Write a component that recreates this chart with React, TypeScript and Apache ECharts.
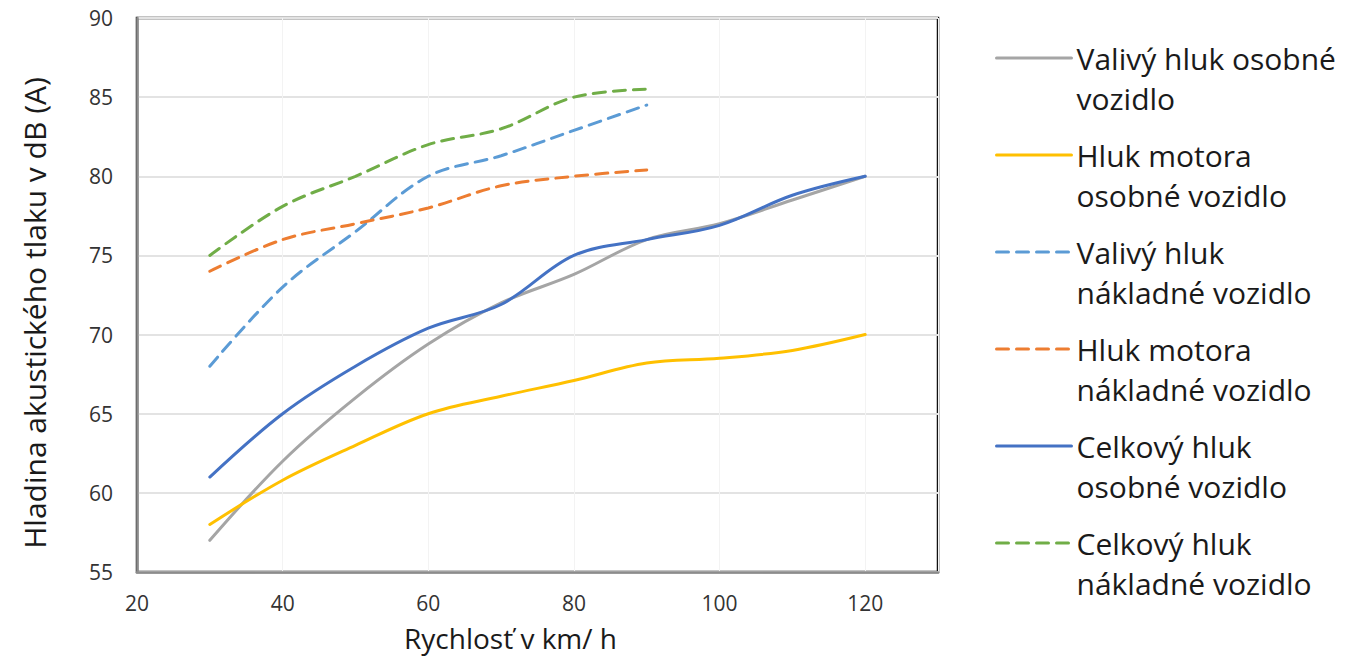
import React, { useEffect, useRef } from "react";
import * as echarts from "echarts";

const speedsCar = [30, 40, 50, 60, 70, 80, 90, 100, 110, 120];
const speedsTruck = [30, 40, 50, 60, 70, 80, 90];

const rollingCar = [57, 62, 66, 69.4, 72, 73.8, 76, 77, 78.5, 80];
const engineCar = [58, 60.8, 63, 65, 66.1, 67.1, 68.2, 68.5, 69, 70];
const rollingTruck = [68, 73, 76.5, 80, 81.3, 82.9, 84.5];
const engineTruck = [74, 76, 77, 78, 79.4, 80, 80.4];
const totalCar = [61, 65, 68, 70.4, 71.9, 75, 76, 76.9, 78.8, 80];
const totalTruck = [75, 78.1, 80, 82, 83, 85, 85.5];

const seriesNames = [
  "Valivý hluk osobné\nvozidlo",
  "Hluk motora\nosobné vozidlo",
  "Valivý hluk\nnákladné vozidlo",
  "Hluk motora\nnákladné vozidlo",
  "Celkový hluk\nosobné vozidlo",
  "Celkový hluk\nnákladné vozidlo",
];

const xTitle = "Rychlosť v km/ h";
const yTitle = "Hladina akustického tlaku v dB (A)";

const FONT = "Open Sans";

function pairs(xs: number[], ys: number[]) {
  return ys.map((y, i) => [xs[i], y]);
}

export default function App() {
  const ref = useRef<HTMLDivElement>(null);
  useEffect(() => {
    if (!ref.current) return;
    const chart = echarts.init(ref.current, null, { renderer: "svg" });
    const mk = (
      name: string,
      xs: number[],
      ys: number[],
      color: string,
      dashed: boolean
    ) => ({
      name,
      type: "line",
      smooth: 0.35,
      symbol: "none",
      data: pairs(xs, ys),
      lineStyle: {
        color,
        width: 3,
        type: dashed ? [12, 8] : "solid",
        cap: "round",
      },
      itemStyle: { color },
    });
    chart.setOption({
      animation: false,
      textStyle: { fontFamily: FONT },
      grid: {
        left: 137,
        top: 18,
        right: 407,
        bottom: 88,
        show: true,
        borderColor: "#111",
        borderWidth: 2.5,
      },
      legend: {
        orient: "vertical",
        left: 995,
        top: -2,
        padding: 0,
        itemWidth: 75,
        itemHeight: 14,
        itemGap: -23,
        itemStyle: { opacity: 0 },
        lineStyle: { width: 3 },
        formatter: (name: string) => "\n" + name,
        textStyle: {
          fontFamily: FONT,
          fontSize: 30,
          color: "#1a1a1a",
          lineHeight: 40,
        },
        data: seriesNames,
      },
      xAxis: {
        type: "value",
        min: 20,
        max: 130,
        interval: 20,
        name: xTitle,
        nameLocation: "middle",
        nameGap: 52,
        nameTextStyle: {
          fontFamily: FONT,
          fontSize: 28,
          color: "#1a1a1a",
          padding: [0, 54, 0, 0],
        },
        axisLine: { show: true, lineStyle: { color: "#8c8c8c", width: 2.5 } },
        axisTick: { show: false },
        axisLabel: {
          showMaxLabel: false,
          fontFamily: FONT,
          fontSize: 21,
          color: "#333",
          margin: 20,
        },
        splitLine: { show: true, lineStyle: { color: "#f3f3f3", width: 1 } },
      },
      yAxis: {
        type: "value",
        min: 55,
        max: 90,
        interval: 5,
        name: yTitle,
        nameLocation: "middle",
        nameGap: 88,
        nameTextStyle: {
          fontFamily: FONT,
          fontSize: 30,
          color: "#1a1a1a",
          padding: [0, 36, 0, 0],
        },
        axisLine: { show: true, lineStyle: { color: "#8c8c8c", width: 2.5 } },
        axisTick: { show: false },
        axisLabel: {
          fontFamily: FONT,
          fontSize: 21,
          color: "#333",
          margin: 24,
        },
        splitLine: { show: true, lineStyle: { color: "#e3e3e3", width: 2 } },
      },
      series: [
        mk(seriesNames[0], speedsCar, rollingCar, "#A5A5A5", false),
        mk(seriesNames[1], speedsCar, engineCar, "#FFC000", false),
        mk(seriesNames[2], speedsTruck, rollingTruck, "#5B9BD5", true),
        mk(seriesNames[3], speedsTruck, engineTruck, "#ED7D31", true),
        mk(seriesNames[4], speedsCar, totalCar, "#4472C4", false),
        mk(seriesNames[5], speedsTruck, totalTruck, "#70AD47", true),
      ],
    });
    return () => chart.dispose();
  }, []);
  return (
    <div
      ref={ref}
      style={{ position: "fixed", left: 0, top: 0, width: 1345, height: 660, background: "#fff" }}
    />
  );
}
